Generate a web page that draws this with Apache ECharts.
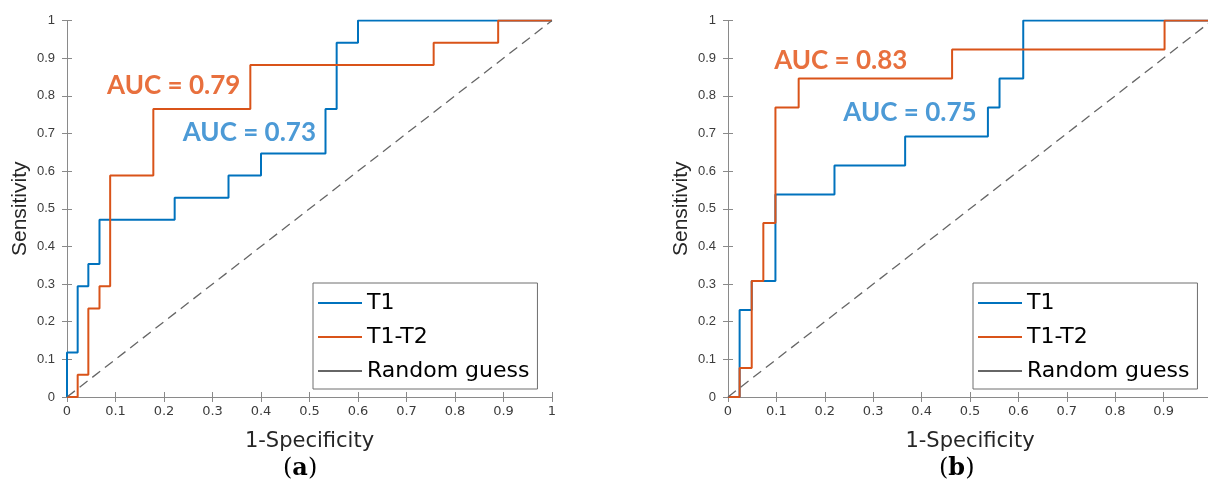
<!DOCTYPE html>
<html>
<head>
<meta charset="utf-8">
<script src="https://cdn.jsdelivr.net/npm/echarts@6/dist/echarts.min.js"></script>
<style>
  html, body { margin: 0; padding: 0; background: #fff; }
  #rocChart { width: 1208px; height: 488px; }
</style>
</head>
<body>
<div id="rocChart"></div>
<script>
// tick labels (shared by both axes)
const tickLabels = ['0', '0.1', '0.2', '0.3', '0.4', '0.5', '0.6', '0.7', '0.8', '0.9', '1'];

// (a) ROC points
const fprT1A = [0, 0, 0.022, 0.022, 0.044, 0.044, 0.067, 0.067, 0.222, 0.222, 0.333, 0.333, 0.4, 0.4, 0.533, 0.533, 0.556, 0.556, 0.6, 0.6, 1];
const tprT1A = [0, 0.118, 0.118, 0.294, 0.294, 0.353, 0.353, 0.471, 0.471, 0.529, 0.529, 0.588, 0.588, 0.647, 0.647, 0.765, 0.765, 0.941, 0.941, 1, 1];
const fprT12A = [0, 0.022, 0.022, 0.044, 0.044, 0.067, 0.067, 0.089, 0.089, 0.178, 0.178, 0.378, 0.378, 0.756, 0.756, 0.889, 0.889, 1];
const tprT12A = [0, 0, 0.059, 0.059, 0.235, 0.235, 0.294, 0.294, 0.588, 0.588, 0.765, 0.765, 0.882, 0.882, 0.941, 0.941, 1, 1];

// (b) ROC points
const fprT1B = [0, 0.024, 0.024, 0.049, 0.049, 0.098, 0.098, 0.22, 0.22, 0.366, 0.366, 0.537, 0.537, 0.561, 0.561, 0.61, 0.61, 1];
const tprT1B = [0, 0, 0.231, 0.231, 0.308, 0.308, 0.538, 0.538, 0.615, 0.615, 0.692, 0.692, 0.769, 0.769, 0.846, 0.846, 1, 1];
const fprT12B = [0, 0.024, 0.024, 0.049, 0.049, 0.073, 0.073, 0.098, 0.098, 0.146, 0.146, 0.463, 0.463, 0.902, 0.902, 1];
const tprT12B = [0, 0, 0.077, 0.077, 0.308, 0.308, 0.462, 0.462, 0.769, 0.769, 0.846, 0.846, 0.923, 0.923, 1, 1];

// random guess diagonal
const guessX = [0, 1];
const guessY = [0, 1];

// AUC values
const aucA = ['AUC = 0.79', 'AUC = 0.73'];
const aucB = ['AUC = 0.83', 'AUC = 0.75'];

const legendNames = ['T1', 'T1-T2', 'Random guess'];

const BLUE = '#0072BD';
const ORANGE = '#D95319';
const AXIS = '#8a8a8a';
const LABEL = '#3c3c3c';
const FONT = '"Liberation Sans", Arial, sans-serif';
const WIDE = '"DejaVu Sans", sans-serif';

function zip(xs, ys) {
  return xs.map((x, i) => [x, ys[i]]);
}

function bottomAxis(g) {
  return {
    type: 'value', gridIndex: g, position: 'bottom',
    min: 0, max: 1, interval: 0.1,
    name: '1-Specificity', nameLocation: 'middle', nameGap: 34,
    nameTextStyle: { fontFamily: WIDE, fontSize: 21, color: '#262626' },
    axisLine: { show: true, lineStyle: { color: AXIS, width: 1 } },
    axisTick: { show: true, inside: true, length: 5, lineStyle: { color: AXIS } },
    axisLabel: { margin: 8, fontFamily: WIDE, fontSize: 13, color: LABEL,
      formatter: v => tickLabels[Math.round(v * 10)] },
    splitLine: { show: false }
  };
}
function topAxis(g) {
  return {
    type: 'value', gridIndex: g, position: 'top',
    min: 0, max: 1, interval: 0.1,
    axisLine: { show: true, lineStyle: { color: AXIS, width: 1 } },
    axisTick: { show: true, inside: true, length: 5, lineStyle: { color: AXIS } },
    axisLabel: { show: false },
    splitLine: { show: false }
  };
}
function leftAxis(g) {
  return {
    type: 'value', gridIndex: g, position: 'left',
    min: 0, max: 1, interval: 0.1,
    name: 'Sensitivity', nameLocation: 'middle', nameGap: 36,
    nameTextStyle: { fontFamily: FONT, fontSize: 21, color: '#262626' },
    axisLine: { show: true, lineStyle: { color: AXIS, width: 1 } },
    axisTick: { show: true, inside: true, length: 5, lineStyle: { color: AXIS } },
    axisLabel: { margin: 12, fontFamily: FONT, fontSize: 13, color: LABEL,
      formatter: v => tickLabels[Math.round(v * 10)] },
    splitLine: { show: false }
  };
}
function rightAxis(g) {
  return {
    type: 'value', gridIndex: g, position: 'right',
    min: 0, max: 1, interval: 0.1,
    axisLine: { show: true, lineStyle: { color: AXIS, width: 1 } },
    axisTick: { show: true, inside: true, length: 5, lineStyle: { color: AXIS } },
    axisLabel: { show: false },
    splitLine: { show: false }
  };
}

function rocLine(name, color, data, g) {
  return {
    name: name, type: 'line', xAxisIndex: g * 2, yAxisIndex: g * 2,
    data: data, color: color, symbol: 'none', showSymbol: false,
    lineStyle: { color: color, width: 2 }, silent: true, z: 3
  };
}
function guessLine(g) {
  return {
    name: 'Random guess', type: 'line', xAxisIndex: g * 2, yAxisIndex: g * 2,
    data: zip(guessX, guessY), color: '#666666', symbol: 'none', showSymbol: false,
    lineStyle: { color: '#666666', width: 1.3, type: [10, 6] }, silent: true, z: 4
  };
}
// AUC texts anchored in data coordinates
function aucLabels(texts, points, colors, g) {
  return {
    type: 'scatter', xAxisIndex: g * 2, yAxisIndex: g * 2,
    symbolSize: 1, silent: true, z: 6,
    itemStyle: { opacity: 0 },
    data: texts.map((t, i) => ({
      name: t, value: points[i],
      label: { color: colors[i] }
    })),
    label: {
      show: true, position: 'inside', opacity: 1,
      fontFamily: 'Lato, sans-serif', fontWeight: 'bold', fontSize: 26,
      textBorderWidth: 0,
      formatter: p => p.name
    }
  };
}
function legendBox(left) {
  return {
    data: legendNames, orient: 'vertical', left: left, top: 283,
    icon: 'rect', itemWidth: 44, itemHeight: 2, itemGap: 12,
    padding: [9, 8, 7, 5],
    borderColor: '#6e6e6e', borderWidth: 1, backgroundColor: '#fff',
    textStyle: { fontFamily: WIDE, fontSize: 22, color: '#000' },
    selectedMode: false
  };
}

const chart = echarts.init(document.getElementById('rocChart'), null, { renderer: 'canvas' });

const option = {
  animation: false,
  backgroundColor: '#fff',
  grid: [
    { left: 67, top: 20.5, width: 485, height: 376.5, outerBoundsMode: 'none' },
    { left: 728, top: 20.5, width: 484, height: 376.5, outerBoundsMode: 'none' }
  ],
  xAxis: [bottomAxis(0), topAxis(0), bottomAxis(1), topAxis(1)],
  yAxis: [leftAxis(0), rightAxis(0), leftAxis(1), rightAxis(1)],
  legend: [legendBox(313), legendBox(973)],
  graphic: [
    { type: 'text', left: 283, top: 457, style: { text: '({b|a})', font: '24px "DejaVu Serif", serif', fill: '#000',
      rich: { b: { fontFamily: '"DejaVu Serif", serif', fontSize: 24, fontWeight: 'bold' } } } },
    { type: 'text', left: 939, top: 457, style: { text: '({b|b})', font: '24px "DejaVu Serif", serif', fill: '#000',
      rich: { b: { fontFamily: '"DejaVu Serif", serif', fontSize: 24, fontWeight: 'bold' } } } }
  ],
  series: [
    rocLine('T1', BLUE, zip(fprT1A, tprT1A), 0),
    rocLine('T1-T2', ORANGE, zip(fprT12A, tprT12A), 0),
    guessLine(0),
    aucLabels(aucA, [[0.22, 0.826], [0.376, 0.701]], ['#E8703E', '#4C9AD6'], 0),
    rocLine('T1', BLUE, zip(fprT1B, tprT1B), 1),
    rocLine('T1-T2', ORANGE, zip(fprT12B, tprT12B), 1),
    guessLine(1),
    aucLabels(aucB, [[0.233, 0.893], [0.376, 0.755]], ['#E8703E', '#4C9AD6'], 1)
  ]
};
chart.setOption(option);
</script>
</body>
</html>
